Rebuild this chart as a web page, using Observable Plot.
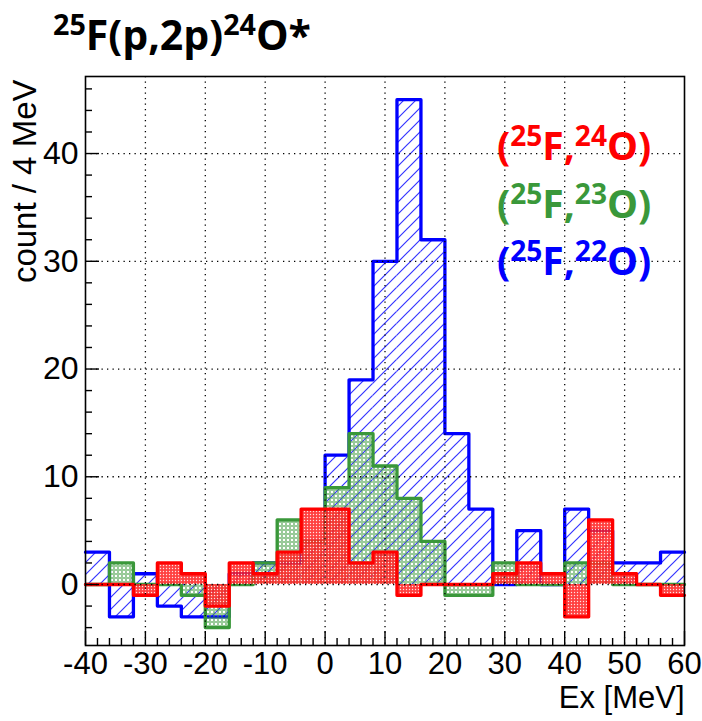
<!DOCTYPE html>
<html>
<head>
<meta charset="utf-8">
<script src="https://cdn.jsdelivr.net/npm/d3@7"></script>
<script src="https://cdn.jsdelivr.net/npm/@observablehq/plot@0.6"></script>
<style>
  html, body { margin: 0; padding: 0; background: #fff; }
  #chart { width: 702px; height: 721px; }
</style>
</head>
<body>
<div id="chart"></div>
<script>
// Bin left edges (4 MeV bins)
const binEdges = [-40,-36,-32,-28,-24,-20,-16,-12,-8,-4,0,4,8,12,16,20,24,28,32,36,40,44,48,52,56];
const binWidth = 4;
// Counts per bin
const countsO22 = [3,-3,1,-2,-3,-3,1,2,2,4,12,19,30,45,32,14,7,0,5,0,7,5,2,2,3];   // (25F,22O) blue
const countsO23 = [0,2,0,0,-1,-4,0,2,6,4,9,14,11,8,4,-1,-1,2,0,0,2,2,0,0,0];       // (25F,23O) green
const countsO24 = [0,0,-1,2,1,-2,2,1,3,7,7,2,3,-1,0,0,0,1,2,1,-3,6,1,0,-1];       // (25F,24O) red

const xTickValues = [-40,-30,-20,-10,0,10,20,30,40,50,60];
const yTickValues = [0,10,20,30,40];
const xGridValues = [-30,-20,-10,0,10,20,30,40,50];
const yGridValues = [0,10,20,30,40];

const xTitle = "Ex [MeV]";
const yTitle = "count / 4 MeV";

const BLUE = "#0000ff", GREEN = "#3a983a", RED = "#ff0000";
const FONT = "Liberation Sans, Arial, Helvetica, sans-serif";

function bins(values) {
  return binEdges.map((e, i) => ({x1: e, x2: e + binWidth, y: values[i]}));
}
function steps(values) {
  const pts = binEdges.map((e, i) => ({x: e, y: values[i]}));
  pts.push({x: binEdges[binEdges.length - 1] + binWidth, y: values[values.length - 1]});
  return pts;
}

const xMinor = d3.range(-38, 60, 2).filter(d => d % 10 !== 0);
const yMinor = d3.range(-4, 47, 2).filter(d => d % 10 !== 0);

const W = 702, H = 721, mL = 85, mR = 18, mT = 76, mB = 76;
const frameH = H - mT - mB, frameW = W - mL - mR;

const plot = Plot.plot({
  width: W, height: H,
  marginLeft: mL, marginRight: mR, marginTop: mT, marginBottom: mB,
  x: {domain: [-40, 60], axis: null},
  y: {domain: [-5.66, 47.15], axis: null},
  style: {background: "white", fontFamily: FONT},
  marks: [
    // blue
    Plot.rectY(bins(countsO22), {x1: "x1", x2: "x2", y: "y", fill: "url(#hatchBlue)"}),
    Plot.line(steps(countsO22), {x: "x", y: "y", curve: "step-after", stroke: BLUE, strokeWidth: 3.3}),
    // green
    Plot.rectY(bins(countsO23), {x1: "x1", x2: "x2", y: "y", fill: "url(#dotsGreen)"}),
    Plot.line(steps(countsO23), {x: "x", y: "y", curve: "step-after", stroke: GREEN, strokeWidth: 3.3}),
    // red
    Plot.rectY(bins(countsO24), {x1: "x1", x2: "x2", y: "y", fill: "url(#dotsRed)"}),
    Plot.line(steps(countsO24), {x: "x", y: "y", curve: "step-after", stroke: RED, strokeWidth: 3.3}),
    // grid
    Plot.ruleX(xGridValues, {x: d => d, stroke: "black", strokeWidth: 1.3, strokeDasharray: "1.3,4.2"}),
    Plot.ruleY(yGridValues, {y: d => d, stroke: "black", strokeWidth: 1.3, strokeDasharray: "1.3,4.2"}),
    // frame
    Plot.frame({stroke: "black", strokeWidth: 1.6}),
    // ticks (inside the frame)
    Plot.ruleX(xTickValues, {x: d => d, insetTop: frameH - 14, stroke: "black", strokeWidth: 1.4}),
    Plot.ruleX(xMinor, {x: d => d, insetTop: frameH - 7, stroke: "black", strokeWidth: 1.4}),
    Plot.ruleY(yTickValues, {y: d => d, insetRight: frameW - 14, stroke: "black", strokeWidth: 1.4}),
    Plot.ruleY(yMinor, {y: d => d, insetRight: frameW - 7, stroke: "black", strokeWidth: 1.4}),
    // tick labels
    Plot.text(xTickValues, {x: d => d, frameAnchor: "bottom", lineAnchor: "top", dy: 6, text: d => String(d), fontSize: 31, fill: "black"}),
    Plot.text(yTickValues, {y: d => d, frameAnchor: "left", textAnchor: "end", dx: -7, text: d => String(d), fontSize: 32, fill: "black"}),
    // axis titles
    Plot.text([xTitle], {frameAnchor: "bottom-right", textAnchor: "end", lineAnchor: "top", dy: 40, text: d => d, fontSize: 31, fill: "black"}),
    Plot.text([yTitle], {frameAnchor: "top-left", textAnchor: "end", rotate: -90, dx: -73, dy: 3, text: d => d, fontSize: 33, fill: "black"})
  ]
});

const svg = d3.select(plot);
const defs = svg.insert("defs", ":first-child");
const pb = defs.append("pattern").attr("id", "hatchBlue").attr("patternUnits", "userSpaceOnUse")
  .attr("width", 12).attr("height", 12);
pb.append("path").attr("d", "M-3,3 L3,-3 M0,12 L12,0 M9,15 L15,9")
  .attr("stroke", "#3535ff").attr("stroke-width", 1.2).attr("fill", "none");
const pg = defs.append("pattern").attr("id", "dotsGreen").attr("patternUnits", "userSpaceOnUse")
  .attr("width", 4).attr("height", 4);
pg.append("circle").attr("cx", 2).attr("cy", 2).attr("r", 1.3)
  .attr("fill", "none").attr("stroke", GREEN).attr("stroke-width", 0.85);
const pr = defs.append("pattern").attr("id", "dotsRed").attr("patternUnits", "userSpaceOnUse")
  .attr("width", 3).attr("height", 3);
pr.append("rect").attr("width", 3).attr("height", 3).attr("fill", "#ff2020").attr("fill-opacity", 0.85);
pr.append("circle").attr("cx", 1.5).attr("cy", 1.5).attr("r", 0.7).attr("fill", "#ffffff").attr("fill-opacity", 0.85);

// Title and legend labels
function richText(g, x, y, parts, color, size, supScale) {
  const t = g.append("text").attr("x", x).attr("y", y)
    .attr("text-anchor", "start")
    .attr("font-family", "'Open Sans', Lato, sans-serif").attr("font-weight", "bold")
    .attr("font-size", size).attr("fill", color);
  let up = false;
  parts.forEach(([s, sup]) => {
    const ts = t.append("tspan").text(s);
    if (sup) { ts.attr("font-size", size * supScale).attr("dy", up ? 0 : -size * 0.36); up = true; }
    else { ts.attr("dy", up ? size * 0.36 : 0); up = false; }
  });
}
const g = svg.append("g");
const titleParts = [["25", true], ["F(p,2p)", false], ["24", true], ["O*", false]];
richText(g, 53, 50, titleParts, "black", 41, 0.7);

const legendLabels = [
  {parts: [["(", false], ["25", true], ["F,", false], ["24", true], ["O)", false]], color: RED},
  {parts: [["(", false], ["25", true], ["F,", false], ["23", true], ["O)", false]], color: GREEN},
  {parts: [["(", false], ["25", true], ["F,", false], ["22", true], ["O)", false]], color: BLUE}
];
const legendBaselines = [160, 218, 275];
legendLabels.forEach((l, i) => richText(g, 497, legendBaselines[i], l.parts, l.color, 39, 0.72));

document.getElementById("chart").appendChild(plot);
</script>
</body>
</html>
